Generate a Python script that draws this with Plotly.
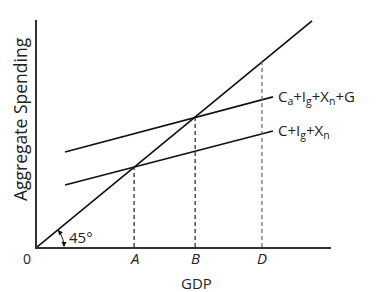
import numpy as np
import plotly.graph_objects as go

# Data (in GDP units; 45-degree line is y = x)
line45_x = [0, 100]
line45_y = [0, 100]
ae1_x = [10.2, 85.8]          # C+Ig+Xn
ae1_y = [27.4, 51.3]
ae2_x = [10.2, 85.8]          # Ca+Ig+Xn+G
ae2_y = [42.0, 66.4]
tick_labels = ["A", "B", "D"]
tick_vals = [35.3, 57.5, 81.8]
ae1_label = "C+I<sub>g</sub>+X<sub>n</sub>"
ae2_label = "C<sub>a</sub>+I<sub>g</sub>+X<sub>n</sub>+G"

XMAX = 106.9
YMAX = 100.4
PXX = 2.75   # pixels per unit x
PXY = 2.26   # pixels per unit y

FONT = "Open Sans"
TXT = "#222"
fig = go.Figure()
line = dict(color="#111", width=1.7)

fig.add_trace(go.Scatter(x=line45_x, y=line45_y, mode="lines", line=line))
fig.add_trace(go.Scatter(x=ae1_x, y=ae1_y, mode="lines", line=line))
fig.add_trace(go.Scatter(x=ae2_x, y=ae2_y, mode="lines", line=line))

# dashed verticals up to the 45-degree line
for xv, col in zip(tick_vals, ["#222", "#222", "#666"]):
    fig.add_trace(go.Scatter(x=[xv, xv], y=[0, xv], mode="lines",
                             line=dict(color=col, width=1.2, dash="4px,3px")))

# 45-degree arc marker
r = 27
ang = np.arctan2(226, 275)
th = np.linspace(0.04, ang - 0.04, 30)
fig.add_trace(go.Scatter(x=r*np.cos(th)/PXX, y=r*np.sin(th)/PXY, mode="lines",
                         line=dict(color="#111", width=1)))

annotations = []
annotations.append(dict(x=r/PXX, y=0, xref="x", yref="y", ax=0, ay=-6, axref="pixel", ayref="pixel",
                        showarrow=True, arrowhead=2, arrowsize=1, arrowwidth=1, arrowcolor="#111", text=""))
ex, ey = r*np.cos(ang), r*np.sin(ang)
annotations.append(dict(x=ex/PXX, y=ey/PXY, xref="x", yref="y",
                        ax=5*np.sin(ang), ay=5*np.cos(ang),
                        showarrow=True, arrowhead=2, arrowsize=1, arrowwidth=1, arrowcolor="#111", text=""))
annotations.append(dict(x=(67-37)/PXX, y=(247-237)/PXY, xref="x", yref="y", text="45°",
                        showarrow=False, xanchor="left", font=dict(size=15, color=TXT, family=FONT)))
annotations.append(dict(x=ae2_x[-1], y=ae2_y[-1], xref="x", yref="y", text=ae2_label, xshift=3,
                        showarrow=False, xanchor="left", font=dict(size=15, color=TXT, family=FONT)))
annotations.append(dict(x=ae1_x[-1], y=ae1_y[-1], xref="x", yref="y", text=ae1_label, xshift=3,
                        showarrow=False, xanchor="left", font=dict(size=15, color=TXT, family=FONT)))
annotations.append(dict(x=0, y=0, xref="x", yref="y", text="0", xshift=-10, yshift=-11,
                        showarrow=False, font=dict(size=14, color=TXT, family=FONT)))
# x tick labels
for xv, t in zip(tick_vals, tick_labels):
    annotations.append(dict(x=xv, y=0, xref="x", yref="y", text="<i>%s</i>" % t, yshift=-11,
                            showarrow=False, font=dict(size=15, color=TXT, family=FONT)))
# axis titles
annotations.append(dict(x=(196-37)/PXX, y=0, xref="x", yref="y", text="GDP", yshift=-36,
                        showarrow=False, font=dict(size=15, color=TXT, family=FONT)))
annotations.append(dict(x=0, y=(247-119)/PXY, xref="x", yref="y", text="Aggregate Spending",
                        xshift=-17, textangle=-90,
                        showarrow=False, font=dict(size=17.5, color=TXT, family=FONT)))

fig.update_layout(
    width=389, height=292,
    margin=dict(l=37, r=58, t=20, b=45),
    paper_bgcolor="white", plot_bgcolor="white",
    showlegend=False,
    annotations=annotations,
    xaxis=dict(range=[0, XMAX], showgrid=False, zeroline=False, showline=True, automargin=False,
               linecolor="#333", linewidth=1.6, showticklabels=False, ticks=""),
    yaxis=dict(range=[0, YMAX], showgrid=False, zeroline=False, showline=True, automargin=False,
               linecolor="#333", linewidth=1.6, showticklabels=False, ticks=""),
)
fig.write_html("out.html")
